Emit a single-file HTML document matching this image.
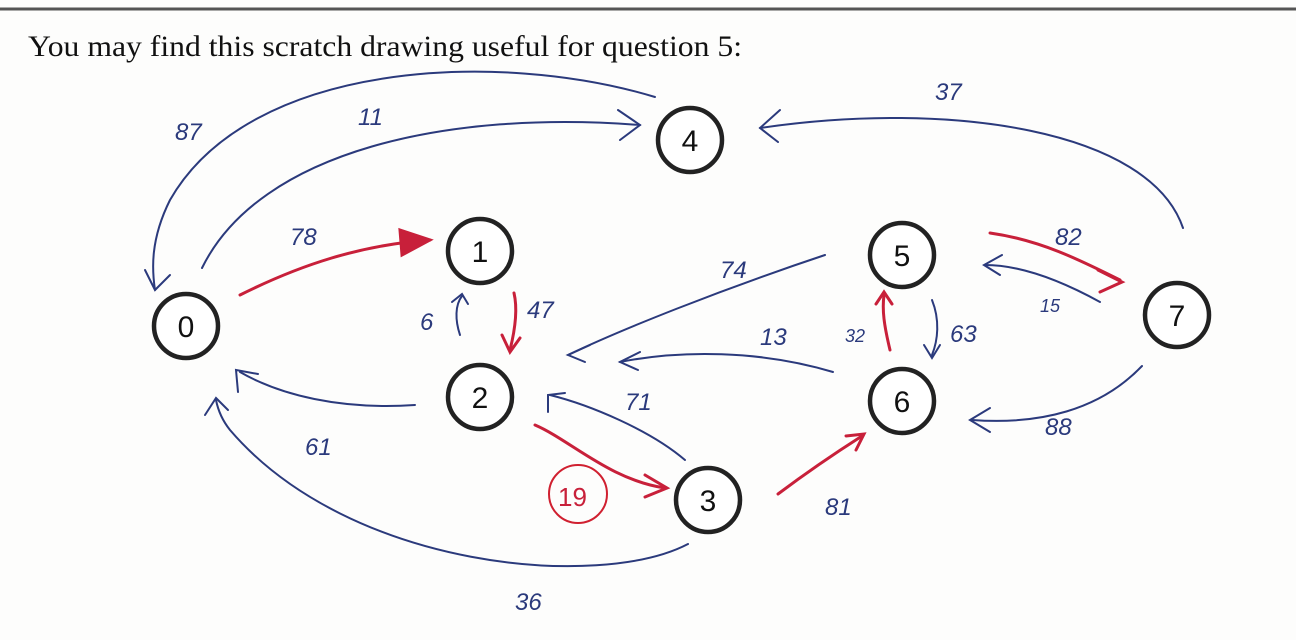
<!DOCTYPE html>
<html><head><meta charset="utf-8"><style>
body{margin:0;background:#fff;width:1296px;height:640px;overflow:hidden}
svg{display:block}
</style></head><body>
<svg width="1296" height="640" viewBox="0 0 1296 640" xmlns="http://www.w3.org/2000/svg">
<rect x="0" y="0" width="1296" height="640" fill="#fdfdfc"/>
<line x1="0" y1="9" x2="1296" y2="9" stroke="#555" stroke-width="3"/>
<text x="28" y="56" font-family="Liberation Serif, serif" font-size="30" textLength="714" lengthAdjust="spacingAndGlyphs" fill="#111">You may find this scratch drawing useful for question 5:</text>
<g fill="none" stroke="#2b3a7c" stroke-width="2" stroke-linecap="round">
<path d="M655 97 C500 50 250 60 170 200 C150 240 152 270 155 290"/>
<path d="M145 270 L155 290 L170 275"/>
<path d="M202 268 C260 150 450 110 640 125"/>
<path d="M618 110 L640 125 L620 140"/>
<path d="M1183 228 C1150 130 950 100 760 128"/>
<path d="M780 110 L760 128 L778 142"/>
<path d="M415 405 C340 410 280 395 240 372"/>
<path d="M238 392 L236 370 L258 374"/>
<path d="M688 544 C600 590 350 570 230 430 C222 420 218 410 216 400"/>
<path d="M205 415 L216 398 L228 410"/>
<path d="M460 335 C455 320 455 305 462 296"/>
<path d="M452 302 L462 294 L468 304"/>
<path d="M685 460 C650 430 590 405 550 395"/>
<path d="M548 412 L548 395 L565 393"/>
<path d="M825 255 C720 290 620 330 568 355"/>
<path d="M590 345 L568 355 L585 362"/>
<path d="M833 372 C760 350 680 350 620 362"/>
<path d="M640 352 L620 362 L638 370"/>
<path d="M1100 302 C1060 280 1020 265 985 265"/>
<path d="M1002 255 L984 265 L1000 275"/>
<path d="M932 300 C940 320 938 340 932 355"/>
<path d="M924 345 L932 358 L940 345"/>
<path d="M1142 366 C1100 410 1040 425 972 420"/>
<path d="M990 408 L970 420 L990 432"/>
</g>
<g fill="none" stroke="#c8203a" stroke-width="3" stroke-linecap="round">
<path d="M240 295 C300 265 360 245 430 240"/>
<path d="M400 230 L430 240 L402 255 Z" fill="#c8203a"/>
<path d="M514 293 C518 310 515 330 510 350"/>
<path d="M502 335 L510 352 L520 338"/>
<path d="M535 425 C570 440 610 480 665 488"/>
<path d="M645 475 L667 488 L645 497"/>
<path d="M778 494 C810 470 840 450 862 436"/>
<path d="M846 436 L864 434 L856 450"/>
<path d="M890 350 C884 325 882 310 884 295"/>
<path d="M876 304 L884 292 L892 304"/>
<path d="M990 233 C1040 240 1080 260 1120 280"/>
<path d="M1098 270 L1122 282 L1100 292"/>
</g>
<circle cx="578" cy="494" r="29" fill="none" stroke="#d02030" stroke-width="2"/>
<g font-family="Liberation Sans, sans-serif" font-size="24" fill="#2b3a7c" font-style="italic">
<text x="175" y="140">87</text><text x="358" y="125">11</text><text x="935" y="100">37</text>
<text x="290" y="245">78</text><text x="527" y="318">47</text><text x="420" y="330">6</text>
<text x="720" y="278">74</text><text x="760" y="345">13</text><text x="625" y="410">71</text>
<text x="305" y="455">61</text><text x="1055" y="245">82</text><text x="1040" y="312" font-size="18">15</text>
<text x="845" y="342" font-size="18">32</text><text x="950" y="342">63</text><text x="1045" y="435">88</text>
<text x="825" y="515">81</text><text x="515" y="610">36</text>
</g>
<text x="558" y="506" font-family="Liberation Sans, sans-serif" font-size="26" fill="#c8203a">19</text>
<g stroke="#222" stroke-width="4.5" fill="#fff">
<circle cx="186" cy="326" r="32"/><circle cx="480" cy="251" r="32"/><circle cx="480" cy="397" r="32"/>
<circle cx="708" cy="500" r="32"/><circle cx="690" cy="140" r="32"/><circle cx="902" cy="255" r="32"/>
<circle cx="902" cy="401" r="32"/><circle cx="1177" cy="315" r="32"/>
</g>
<g font-family="Liberation Sans, sans-serif" font-size="30" fill="#111" text-anchor="middle">
<text x="186" y="337">0</text><text x="480" y="262">1</text><text x="480" y="408">2</text>
<text x="708" y="511">3</text><text x="690" y="151">4</text><text x="902" y="266">5</text>
<text x="902" y="412">6</text><text x="1177" y="326">7</text>
</g>
</svg>
</body></html>
